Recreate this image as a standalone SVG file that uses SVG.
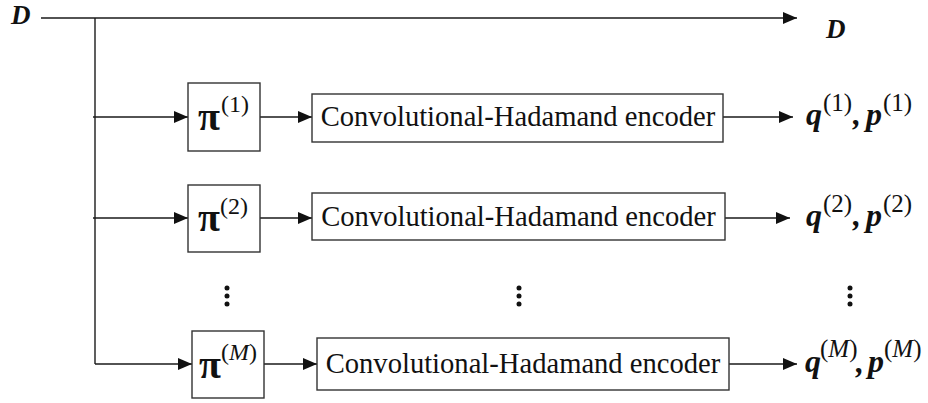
<svg xmlns="http://www.w3.org/2000/svg" width="928" height="403" viewBox="0 0 928 403">
  <style>
    .ln { stroke: #1a1a1a; stroke-width: 1.4; fill: none; }
    .box { stroke: #333; stroke-width: 1.4; fill: #fff; }
    .pi { font-family: "Liberation Serif", serif; font-size: 40px; font-weight: bold; fill: #111; }
    .sup { font-family: "Liberation Serif", serif; font-size: 24px; fill: #111; }
    .osup { font-family: "Liberation Serif", serif; font-size: 25px; fill: #111; }
    .enc { font-family: "Liberation Serif", serif; font-size: 28.6px; fill: #111; }
    .var { font-family: "Liberation Serif", serif; font-size: 32px; font-weight: bold; font-style: italic; fill: #111; }
    .d { font-family: "Liberation Serif", serif; font-size: 27px; font-weight: bold; font-style: italic; fill: #111; }
    .dot { fill: #111; }
  </style>
  <defs>
    <marker id="arr" markerWidth="14" markerHeight="12" refX="14" refY="6" orient="auto" markerUnits="userSpaceOnUse">
      <path d="M0,0 L14,6 L0,12 Z" fill="#111"/>
    </marker>
  </defs>

  <g id="connectors">
    <path class="ln" d="M41,18 H797" marker-end="url(#arr)"/>
    <path class="ln" d="M95,18 V364"/>
    <path class="ln" d="M93,117 H188" marker-end="url(#arr)"/>
    <path class="ln" d="M93,218 H188" marker-end="url(#arr)"/>
    <path class="ln" d="M95,364 H192" marker-end="url(#arr)"/>
    <path class="ln" d="M260,117 H312" marker-end="url(#arr)"/>
    <path class="ln" d="M260,218 H312" marker-end="url(#arr)"/>
    <path class="ln" d="M264,364 H317" marker-end="url(#arr)"/>
    <path class="ln" d="M723,117 H793" marker-end="url(#arr)"/>
    <path class="ln" d="M725,218 H790" marker-end="url(#arr)"/>
    <path class="ln" d="M729,364 H797" marker-end="url(#arr)"/>
  </g>

  <g id="input-D"><text class="d" x="11" y="24">D</text></g>
  <g id="output-D"><text class="d" x="826" y="38">D</text></g>

  <g id="pi1">
    <rect class="box" x="188" y="83" width="72" height="68"/>
    <text class="pi" x="198" y="130">π</text>
    <text class="sup" x="221" y="112">(1)</text>
  </g>
  <g id="pi2">
    <rect class="box" x="188" y="185" width="72" height="67"/>
    <text class="pi" x="198" y="231">π</text>
    <text class="sup" x="220" y="214">(2)</text>
  </g>
  <g id="piM">
    <rect class="box" x="192" y="331" width="72" height="67"/>
    <text class="pi" x="199" y="378">π</text>
    <text class="sup" x="221" y="360">(<tspan font-style="italic">M</tspan>)</text>
  </g>

  <g id="enc1">
    <rect class="box" x="312" y="94" width="411" height="48"/>
    <text class="enc" x="518" y="126" text-anchor="middle">Convolutional-Hadamand encoder</text>
  </g>
  <g id="enc2">
    <rect class="box" x="312" y="193" width="413" height="47"/>
    <text class="enc" x="518.5" y="226" text-anchor="middle">Convolutional-Hadamand encoder</text>
  </g>
  <g id="encM">
    <rect class="box" x="317" y="338" width="412" height="52"/>
    <text class="enc" x="523" y="373" text-anchor="middle">Convolutional-Hadamand encoder</text>
  </g>

  <g id="out1">
    <text class="var" x="806" y="125">q</text>
    <text class="osup" x="823" y="111">(1)</text>
    <text class="var" x="853" y="125">,</text>
    <text class="var" x="866" y="125">p</text>
    <text class="osup" x="883" y="111">(1)</text>
  </g>
  <g id="out2">
    <text class="var" x="806" y="226">q</text>
    <text class="osup" x="823" y="212">(2)</text>
    <text class="var" x="853" y="226">,</text>
    <text class="var" x="866" y="226">p</text>
    <text class="osup" x="883" y="212">(2)</text>
  </g>
  <g id="outM">
    <text class="var" x="805" y="372">q</text>
    <text class="osup" x="820" y="357">(<tspan font-style="italic">M</tspan>)</text>
    <text class="var" x="856" y="373">,</text>
    <text class="var" x="868" y="372">p</text>
    <text class="osup" x="884" y="357">(<tspan font-style="italic">M</tspan>)</text>
  </g>

  <g id="ellipsis">
    <circle class="dot" cx="227" cy="288" r="2.5"/>
    <circle class="dot" cx="227" cy="296" r="2.5"/>
    <circle class="dot" cx="227" cy="304" r="2.5"/>
    <circle class="dot" cx="519" cy="288" r="2.5"/>
    <circle class="dot" cx="519" cy="296" r="2.5"/>
    <circle class="dot" cx="519" cy="304" r="2.5"/>
    <circle class="dot" cx="850" cy="288" r="2.5"/>
    <circle class="dot" cx="850" cy="296" r="2.5"/>
    <circle class="dot" cx="850" cy="304" r="2.5"/>
  </g>
</svg>
